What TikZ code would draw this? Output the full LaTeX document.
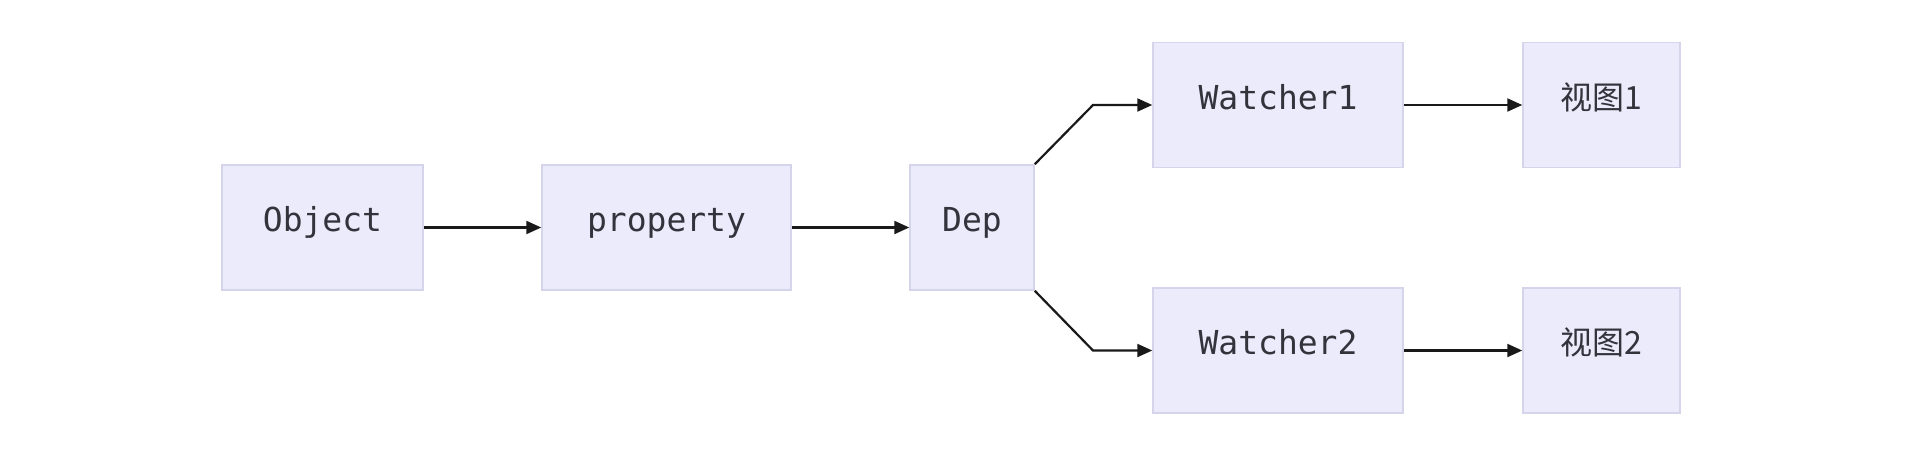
\documentclass[tikz,border=0pt]{standalone}
\usepackage{fontspec}
\setmonofont{DejaVu Sans Mono}
\newfontfamily\cjk{Noto Sans CJK SC}
\usetikzlibrary{arrows.meta}
\definecolor{boxfill}{RGB}{236,235,252}
\definecolor{boxline}{RGB}{214,212,234}
\definecolor{txt}{RGB}{51,51,60}
\tikzset{
  x=1pt, y=-1pt,
  fbox/.style={draw=boxline, line width=1.5pt, fill=boxfill, inner sep=0pt,
    minimum height=125pt, text height=24pt, text depth=16pt,
    text=txt, font=\fontsize{33}{36}\selectfont\ttfamily},
  cbox/.style={fbox, font=\fontsize{32}{36}\selectfont\cjk},
  link/.style={draw=black!90, line width=2.2pt, -{Triangle[length=15pt,width=13pt]}},
}
\begin{document}
\begin{tikzpicture}
\useasboundingbox[fill=white] (0,0) rectangle (1910,458);
\node[fbox, minimum width=201pt] (obj) at (322.5,227.5) {Object};
\node[fbox, minimum width=249pt] (prop) at (666.5,227.5) {property};
\node[fbox, minimum width=124pt] (dep) at (972,227.5) {Dep};
\node[fbox, minimum width=250pt] (w1) at (1278,105) {Watcher1};
\node[fbox, minimum width=250pt] (w2) at (1278,350.5) {Watcher2};
\node[cbox, minimum width=157pt] (v1) at (1601.5,105) {视图1};
\node[cbox, minimum width=157pt] (v2) at (1601.5,350.5) {视图2};
\coordinate (b1) at (1093,105);
\coordinate (b2) at (1093,350.5);
\draw[link] (obj.east) -- (prop.west);
\draw[link] (prop.east) -- (dep.west);
\draw[link] (dep.north east) -- (b1) -- (w1.west);
\draw[link] (dep.south east) -- (b2) -- (w2.west);
\draw[link] (w1.east) -- (v1.west);
\draw[link] (w2.east) -- (v2.west);
\end{tikzpicture}
\end{document}
